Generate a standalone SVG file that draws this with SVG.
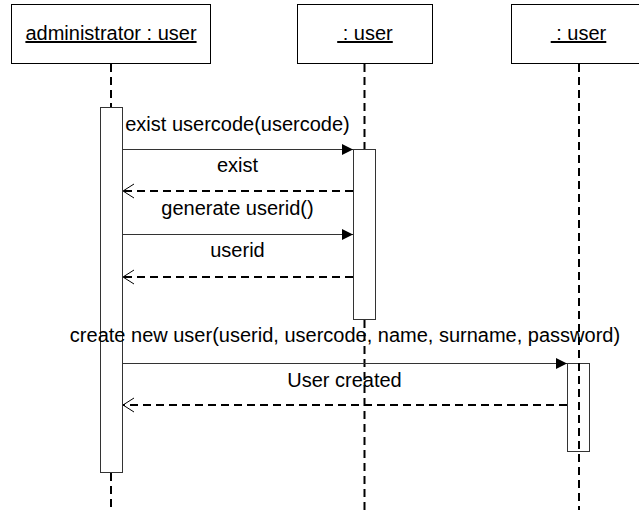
<svg xmlns="http://www.w3.org/2000/svg" width="639" height="510" viewBox="0 0 639 510">
<defs>
<style>
text{font-family:"Liberation Sans",Arial,sans-serif;font-size:20px;fill:#000}
.lbl{text-anchor:middle}
.hd{text-anchor:middle;text-decoration:underline}
.box{fill:#fff;stroke:#000;stroke-width:1}
.act{fill:#fff;stroke:#333;stroke-width:1}
.life{stroke:#000;stroke-width:2;stroke-dasharray:8 5;fill:none}
.msg{stroke:#333;stroke-width:1;fill:none}
.ret{stroke:#000;stroke-width:2;stroke-dasharray:8 5;fill:none}
</style>
<marker id="filled" viewBox="0 0 12 12" refX="11" refY="6" markerWidth="12" markerHeight="12" markerUnits="userSpaceOnUse" orient="auto">
<path d="M0,0.5 L11,6 L0,11.5 Z" fill="#000"/>
</marker>
<marker id="open" viewBox="0 0 14 18" refX="1" refY="9" markerWidth="14" markerHeight="18" markerUnits="userSpaceOnUse" orient="auto-start-reverse">
<path d="M12,1.5 L1,9 L12,16.5" fill="none" stroke="#000" stroke-width="1"/>
</marker>
</defs>
<g id="lifelines">
<line class="life" x1="111" y1="64" x2="111" y2="107"/>
<line class="life" x1="111" y1="473" x2="111" y2="510"/>
<line class="life" x1="364.5" y1="64" x2="364.5" y2="149"/>
<line class="life" x1="364.5" y1="320" x2="364.5" y2="510"/>
</g>
<g id="admin">
<rect class="box" x="11.5" y="4.5" width="199" height="59"/>
<text class="hd" x="111" y="40">administrator : user</text>
<rect class="act" x="100.5" y="107.5" width="22" height="365"/>
</g>
<g id="user1">
<rect class="box" x="297.5" y="4.5" width="135" height="59"/>
<text class="hd" x="365" y="40" xml:space="preserve"> : user</text>
<rect class="act" x="353.5" y="149.5" width="22" height="170"/>
</g>
<g id="user2">
<rect class="box" x="511.5" y="4.5" width="135" height="59"/>
<text class="hd" x="578.5" y="40" xml:space="preserve"> : user</text>
<rect class="act" x="567.5" y="363.5" width="22" height="88"/>
<line class="life" x1="579" y1="64" x2="579" y2="510"/>
</g>
<g id="connectors">
<line class="msg" x1="122" y1="149.5" x2="353" y2="149.5" marker-end="url(#filled)"/>
<text class="lbl" x="237.5" y="131">exist usercode(usercode)</text>
<line class="ret" x1="353" y1="191" x2="123" y2="191"/>
<path d="M134,184 L123,191 L134,198" fill="none" stroke="#000" stroke-width="1"/>
<text class="lbl" x="237.5" y="172">exist</text>
<line class="msg" x1="122" y1="234.5" x2="353" y2="234.5" marker-end="url(#filled)"/>
<text class="lbl" x="237.5" y="215">generate userid()</text>
<line class="ret" x1="353" y1="277" x2="123" y2="277"/>
<path d="M134,270 L123,277 L134,284" fill="none" stroke="#000" stroke-width="1"/>
<text class="lbl" x="237.5" y="257">userid</text>
<line class="msg" x1="122" y1="363.5" x2="567" y2="363.5" marker-end="url(#filled)"/>
<text class="lbl" x="345" y="342">create new user(userid, usercode, name, surname, password)</text>
<line class="ret" x1="567" y1="405" x2="123" y2="405"/>
<path d="M134,398 L123,405 L134,412" fill="none" stroke="#000" stroke-width="1"/>
<text class="lbl" x="344.5" y="387">User created</text>
</g>
</svg>
